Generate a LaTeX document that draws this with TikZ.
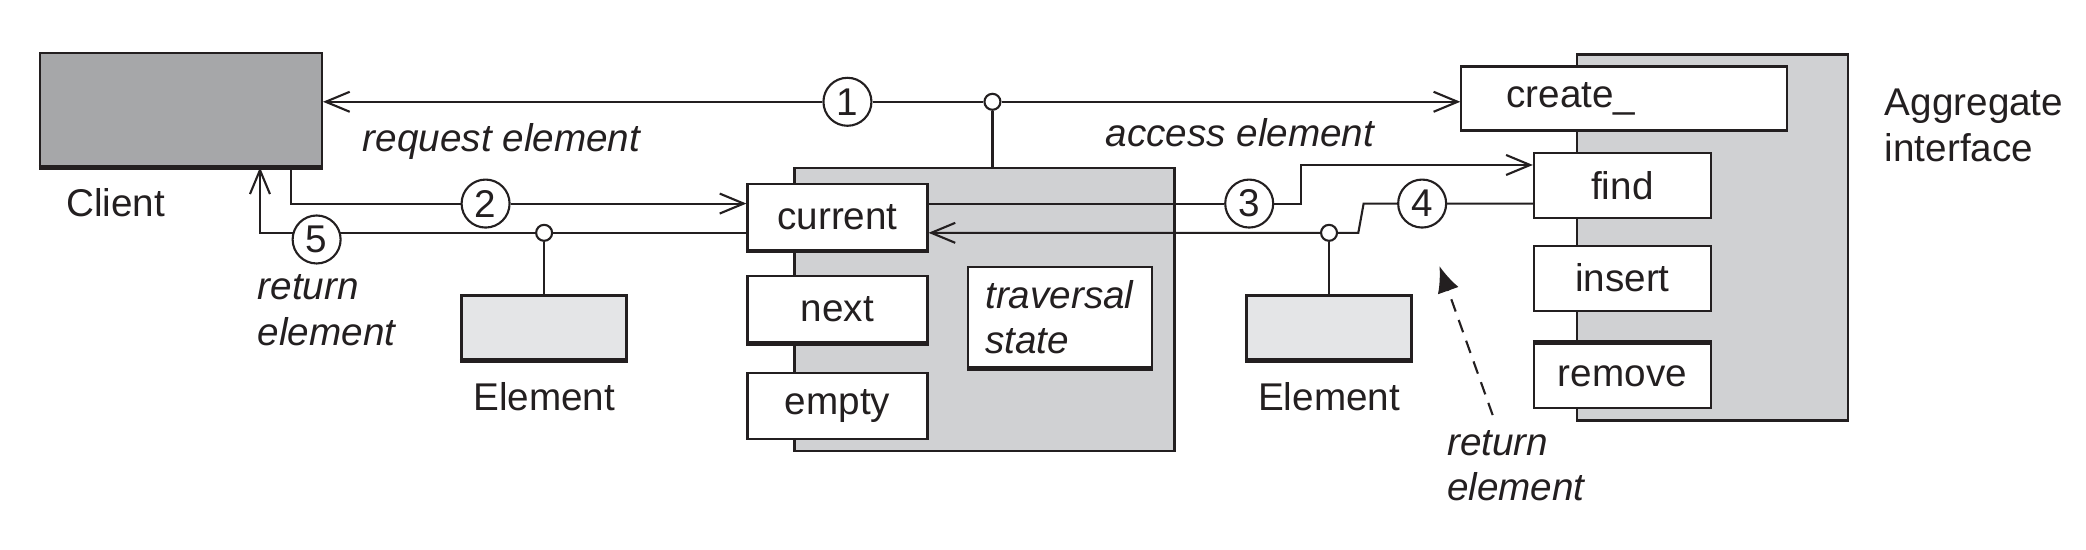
\documentclass[tikz,border=0pt]{standalone}
\usepackage{fontspec}
\setmainfont{Liberation Sans}
\usepackage{tikz}
\usetikzlibrary{arrows.meta, positioning}

\definecolor{ink}{HTML}{231F20}
\definecolor{clientfill}{HTML}{A6A7A9}
\definecolor{blockfill}{HTML}{D0D1D3}
\definecolor{elemfill}{HTML}{E4E5E7}
\newcommand\diagfont{\fontsize{11pt}{13pt}\selectfont}

\tikzset{
  opbox/.style = {draw, fill=white, minimum width=1.8cm, minimum height=0.66cm, inner sep=0pt},
  block/.style = {draw, fill=blockfill, inner sep=0pt},
  elembox/.style = {draw, line width=1pt, fill=elemfill, minimum width=1.65cm, minimum height=0.64cm, inner sep=0pt},
  stepnum/.style = {circle, draw, fill=white, minimum size=0.48cm, inner sep=0pt},
  joint/.style = {circle, draw, fill=white, minimum size=0.16cm, inner sep=0pt},
  lbl/.style = {inner sep=0pt, align=left},
  note/.style = {lbl, font=\diagfont\itshape},
}

\begin{document}
\begin{tikzpicture}[x=0.0133cm, y=-0.0133cm, color=ink, line width=0.6pt, font=\diagfont,
    >={Straight Barb[length=2.4mm, width=2mm]}]
  \useasboundingbox (0,0) rectangle (1568,413);

  % client
  \node[draw, fill=clientfill, minimum width=2.82cm, minimum height=1.13cm] (client) at (136,82.5) {};
  \node[lbl] (clientlbl) at (87,152) {Client};

  % iterator
  \node[block, minimum width=3.80cm, minimum height=2.83cm] (iter) at (740,232.5) {};
  \foreach \op/\y in {current/163, next/232.5, empty/305}
    \node[opbox] (\op) at (629.5,\y) {\op};
  \node[opbox, minimum width=1.84cm, minimum height=1cm, text width=1.5cm, align=left,
    font=\diagfont\itshape] (trav) at (797,238.5) {traversal\\state};

  % aggregate
  \node[block, minimum width=2.71cm, minimum height=3.66cm] (agg) at (1287,178.5) {};
  \node[opbox, minimum width=3.26cm, minimum height=0.64cm, text width=2.36cm,
    inner xsep=0.45cm, align=left] (create) at (1221,74) {create\_};
  \foreach \op/\y in {find/139.5, insert/209, remove/282.5}
    \node[opbox, minimum width=1.77cm, minimum height=0.65cm] (\op) at (1219.5,\y) {\op};
  \node[lbl, anchor=west] (agglbl) at (1416,94) {Aggregate\\interface};

  % elements
  \node[elembox] (elem1) at (409,246) {};
  \node[elembox] (elem2) at (999,246) {};
  \node[lbl, below=0.2cm of elem1] (elem1lbl) {Element};
  \node[lbl, below=0.2cm of elem2] (elem2lbl) {Element};

  % steps and joints
  \node[stepnum] (s1) at (637,76.5) {1};
  \node[joint] (j1) at (746,76.5) {};
  \node[stepnum] (s2) at (365,153) {2};
  \node[stepnum] (s3) at (939,153) {3};
  \node[stepnum] (s4) at (1069,153) {4};
  \node[joint] (j5) at (409,175) {};
  \node[joint] (j4) at (999,175) {};
  \coordinate (k3) at (978,124);
  \coordinate (k4a) at (1025,153);
  \coordinate (k4b) at (1021,175);

  % connectors
  \draw[->] (s1) -- (client.east |- s1);
  \draw (s1) -- (j1);
  \draw[->] (j1) -- (create.west |- j1);
  \draw (j1) -- (iter.north -| j1);
  \draw[->] ([xshift=-0.32cm]client.south east) |- (s2) -- (current.west |- s2);
  \draw[->] (current.west |- j5) -- (j5) -| ([xshift=-0.63cm]client.south east);
  \node[stepnum] (s5) at (238,180) {5};
  \draw (j5) -- (elem1);
  \draw[->] (current.east |- s3) -- (s3) -| (k3) -- (find.west |- k3);
  \draw[->] (find.west |- s4) -- (s4) -- (k4a) -- (k4b) -- (j4) -- (current.east |- j4);
  \draw (j4) -- (elem2);

  % heavier bottom edges
  \foreach \n in {client, current, next, trav, elem1, elem2}
    \draw[line width=1.3pt] (\n.south west) -- (\n.south east);
  \draw[line width=1.3pt] (remove.north west) -- (remove.north east);

  % notes
  \node[note] (req) at (377,106) {request element};
  \node[note] (acc) at (932,100) {access element};
  \node[note, anchor=west] (ret1) at (193,233) {return\\element};
  \node[note, anchor=west] (ret2) at (1087,350) {return\\element};
  \coordinate (d0) at (1122,312);
  \coordinate (d1) at (1082,200);
  \draw[-{Latex[length=2.6mm, width=2.2mm]}, dash pattern=on 1.3mm off 0.9mm] (d0) -- (d1);
\end{tikzpicture}
\end{document}
